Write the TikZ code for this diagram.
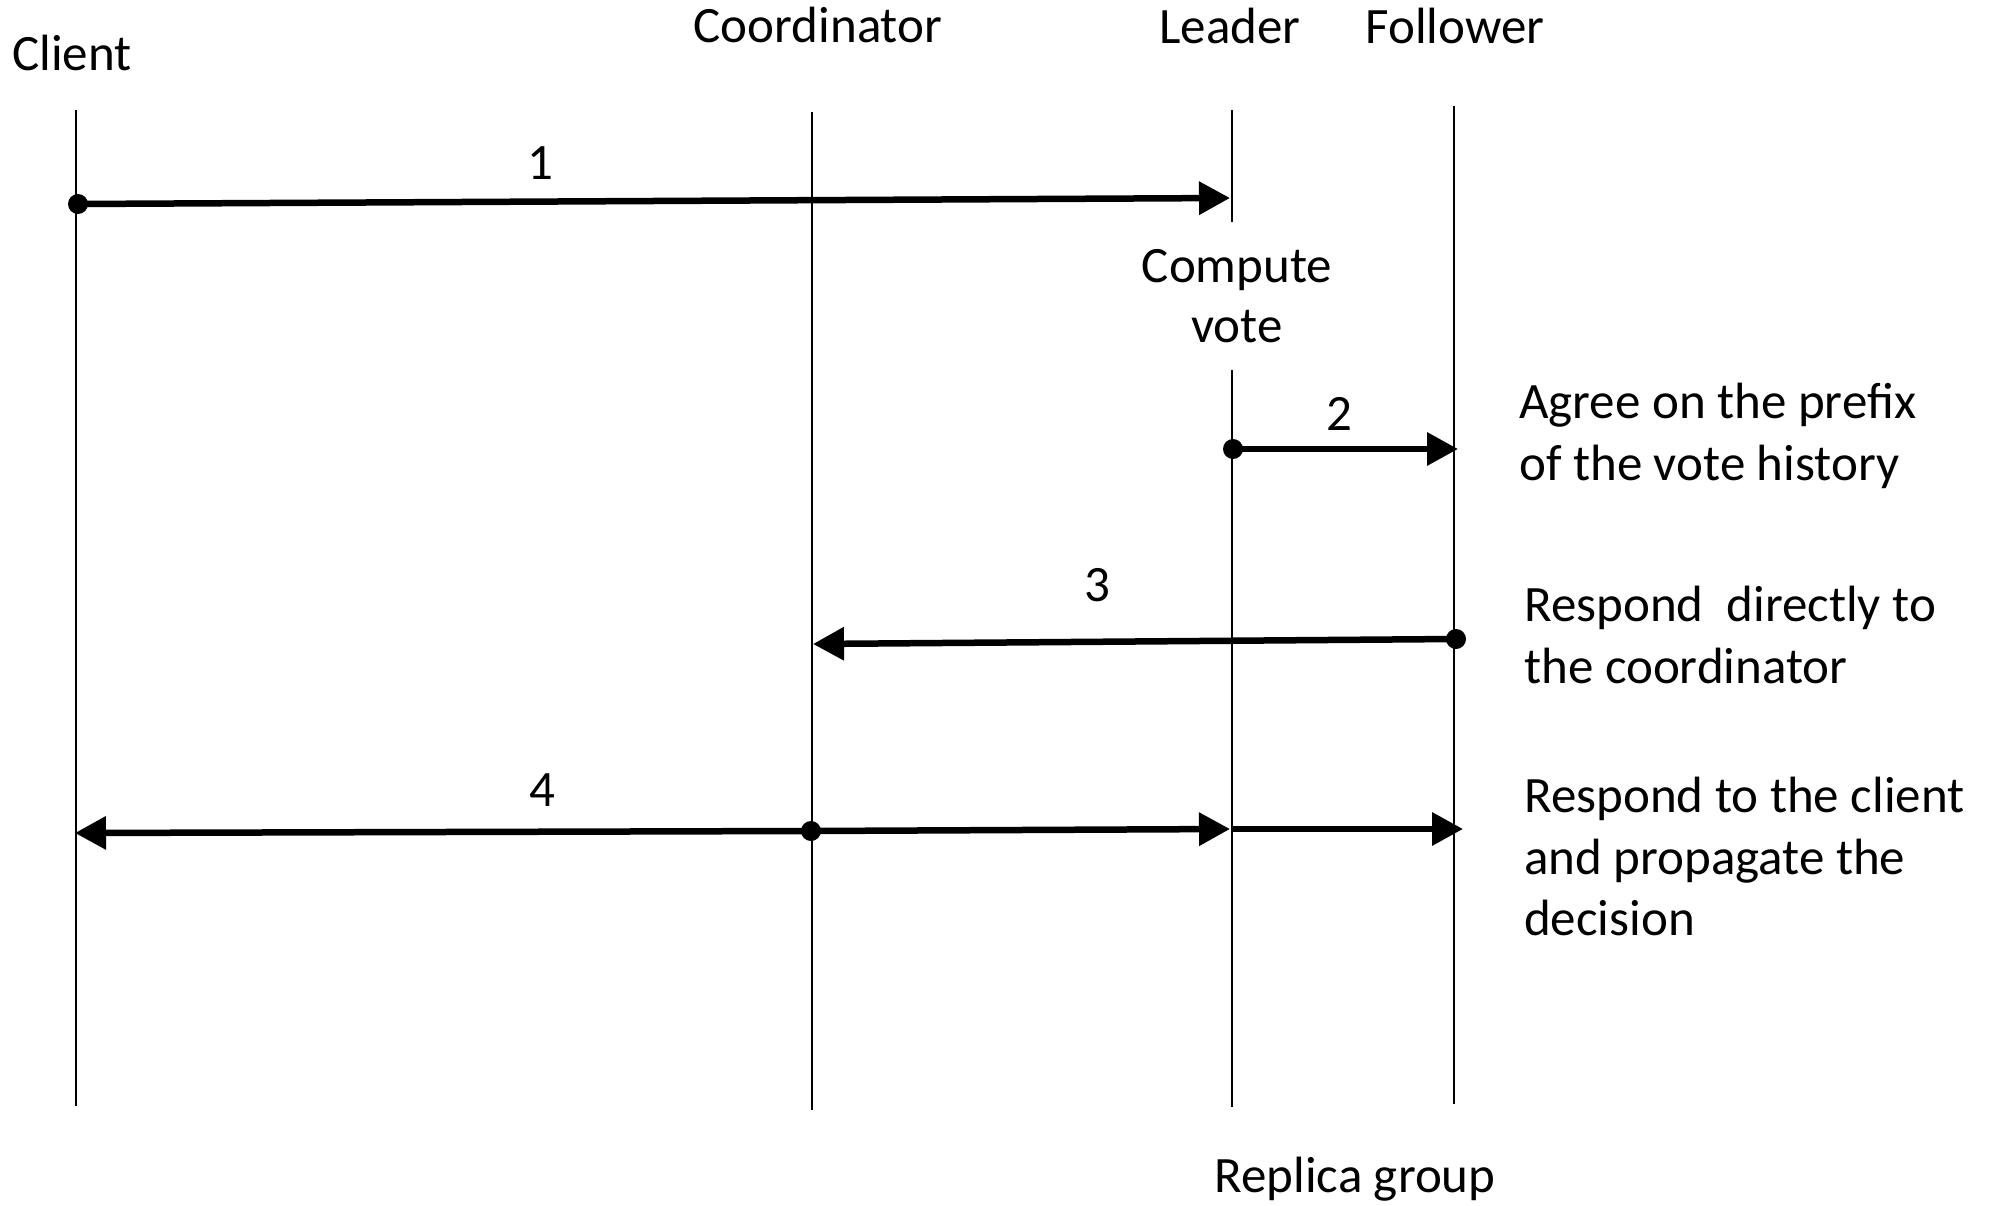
\documentclass[tikz,border=0pt]{standalone}
\usepackage{fontspec}
\setmainfont{Carlito}
\usetikzlibrary{arrows.meta}
\begin{document}
\begin{tikzpicture}[x=1pt,y=-1pt,
  life/.style={line width=2pt},
  msg/.style={line width=6.5pt,-{Triangle[length=31pt,width=32pt]}},
  lbl/.style={inner sep=0pt,font=\fontsize{51}{62}\selectfont,anchor=base},
  note/.style={lbl,anchor=base west},
  dotmark/.style={circle,fill,inner sep=0pt,minimum size=20pt}]
\useasboundingbox (0,0) rectangle (1993,1206);
% headers
\node[lbl] (client) at (72,71) {Client};
\node[lbl] (coord) at (818,43) {Coordinator};
\node[lbl] (leader) at (1230,44) {Leader};
\node[lbl] (follower) at (1455,44) {Follower};
% lifelines
\coordinate (cl-t) at (76,110);   \coordinate (cl-b) at (76,1106);
\coordinate (co-t) at (812,112);  \coordinate (co-b) at (812,1110);
\coordinate (le-t) at (1232,110); \coordinate (le-m) at (1232,222);
\coordinate (le-n) at (1232,370); \coordinate (le-b) at (1232,1107);
\coordinate (fo-t) at (1454,106); \coordinate (fo-b) at (1454,1104);
\draw[life] (cl-t) -- (cl-b);
\draw[life] (co-t) -- (co-b);
\draw[life] (le-t) -- (le-m);
\draw[life] (le-n) -- (le-b);
\draw[life] (fo-t) -- (fo-b);
% compute vote
\node[lbl] (compute) at (1237,282) {Compute};
\node[lbl] (vote) at (1237,342) {vote};
% message 1
\node[dotmark] (d1) at (78,204) {};
\coordinate (t1) at (1230,198);
\draw[msg] (d1.center) -- (t1);
\node[lbl] (n1) at (540,180) {1};
% message 2
\node[dotmark] (d2) at (1233,449) {};
\coordinate (t2) at (1458,449);
\draw[msg] (d2.center) -- (t2);
\node[lbl] (n2) at (1339,430) {2};
\node[note] (agree1) at (1519,418) {Agree on the prefix};
\node[note] (agree2) at (1519,480) {of the vote history};
% message 3
\node[dotmark] (d3) at (1456,639) {};
\coordinate (t3) at (813,644);
\draw[msg] (d3.center) -- (t3);
\node[lbl] (n3) at (1097,601) {3};
\node[note] (resp1) at (1524,621) {Respond\ \ directly to};
\node[note] (resp2) at (1524,683) {the coordinator};
% message 4
\node[dotmark] (d4) at (811,831) {};
\coordinate (t4a) at (75,833);
\coordinate (t4b) at (1230,829);
\coordinate (s4c) at (1232,829);
\coordinate (t4c) at (1463,829);
\draw[msg] (d4.center) -- (t4a);
\draw[msg] (d4.center) -- (t4b);
\draw[msg] (s4c) -- (t4c);
\node[lbl] (n4) at (542,806) {4};
\node[note] (dec1) at (1524,812) {Respond to the client};
\node[note] (dec2) at (1524,874) {and propagate the};
\node[note] (dec3) at (1524,935) {decision};
% group label
\node[lbl] (group) at (1355,1192) {Replica group};
\end{tikzpicture}
\end{document}
